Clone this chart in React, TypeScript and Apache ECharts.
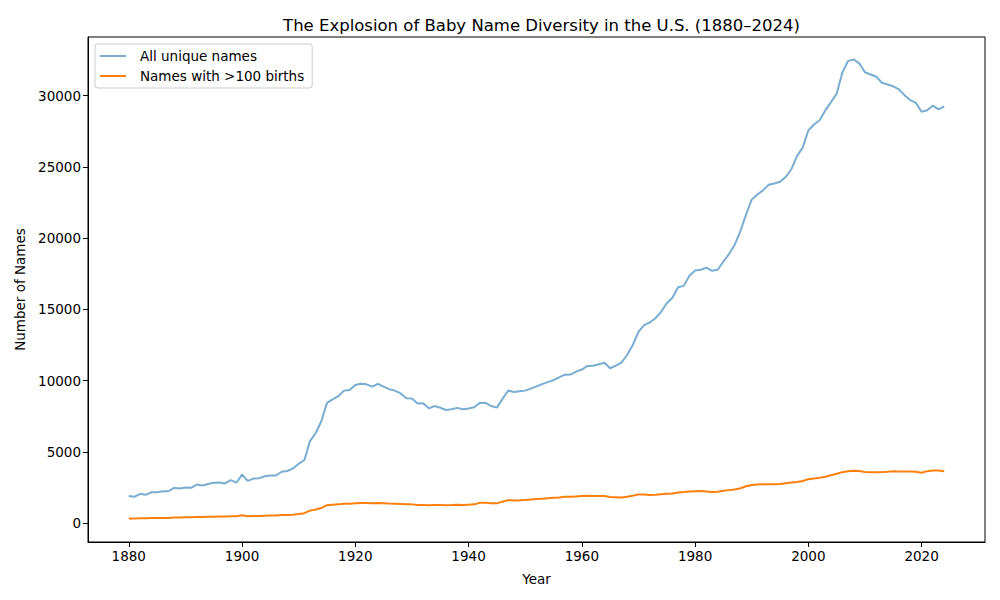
import React, { useEffect, useRef } from "react";
import * as echarts from "echarts";

const startYear = 1880;
const endYear = 2024;
const years: number[] = [];
for (let y = startYear; y <= endYear; y++) years.push(y);

const allUniqueNames = [
  1900, 1850, 2060, 1990, 2170, 2170, 2240, 2240, 2480, 2430,
  2500, 2480, 2710, 2650, 2750, 2830, 2860, 2790, 3020, 2840,
  3410, 2970, 3130, 3150, 3290, 3350, 3350, 3610, 3660, 3840,
  4170, 4420, 5760, 6310, 7150, 8440, 8690, 8910, 9300, 9340,
  9690, 9780, 9740, 9580, 9780, 9580, 9400, 9300, 9100, 8760,
  8750, 8400, 8410, 8060, 8220, 8100, 7940, 7990, 8090, 7990,
  8040, 8130, 8440, 8440, 8220, 8110, 8720, 9310, 9210, 9260,
  9300, 9440, 9600, 9760, 9900, 10040, 10230, 10420, 10430, 10630,
  10780, 11030, 11040, 11150, 11260, 10870, 11060, 11270, 11800, 12500,
  13420, 13890, 14080, 14380, 14830, 15430, 15820, 16550, 16650, 17360,
  17730, 17780, 17930, 17710, 17780, 18360, 18880, 19540, 20480, 21650,
  22700, 23060, 23350, 23750, 23830, 23950, 24290, 24830, 25750, 26350,
  27550, 27970, 28270, 28960, 29540, 30130, 31600, 32420, 32540, 32260,
  31640, 31480, 31320, 30900, 30780, 30650, 30430, 30030, 29680, 29490,
  28860, 28970, 29300, 29030, 29250,
];

const namesOver100 = [
  330, 320, 340, 340, 360, 360, 370, 370, 400, 400,
  410, 410, 440, 440, 450, 460, 470, 470, 490, 480,
  560, 490, 510, 510, 530, 540, 540, 570, 580, 600,
  640, 700, 880, 960, 1060, 1260, 1290, 1320, 1370, 1360,
  1400, 1420, 1410, 1400, 1410, 1400, 1380, 1370, 1350, 1320,
  1320, 1280, 1280, 1260, 1280, 1270, 1260, 1270, 1290, 1280,
  1300, 1320, 1430, 1440, 1400, 1390, 1510, 1620, 1600, 1610,
  1630, 1660, 1690, 1720, 1750, 1780, 1810, 1850, 1850, 1880,
  1900, 1920, 1910, 1910, 1910, 1840, 1820, 1800, 1850, 1930,
  2020, 2010, 1970, 1990, 2030, 2060, 2080, 2150, 2180, 2220,
  2240, 2250, 2230, 2180, 2200, 2270, 2320, 2370, 2450, 2590,
  2680, 2720, 2730, 2740, 2740, 2750, 2800, 2850, 2890, 2960,
  3090, 3140, 3180, 3260, 3360, 3470, 3580, 3650, 3680, 3660,
  3590, 3580, 3580, 3590, 3610, 3640, 3630, 3630, 3630, 3610,
  3540, 3650, 3700, 3690, 3650,
];

const xTicks = [1880, 1900, 1920, 1940, 1960, 1980, 2000, 2020];
const yTicks = [0, 5000, 10000, 15000, 20000, 25000, 30000];

const FONT = "DejaVu Sans";

export default function App() {
  const ref = useRef<HTMLDivElement>(null);
  useEffect(() => {
    if (!ref.current) return;
    const chart = echarts.init(ref.current, null, { renderer: "svg" });
    chart.setOption({
      animation: false,
      backgroundColor: "#ffffff",
      textStyle: { fontFamily: FONT },
      title: {
        text: "The Explosion of Baby Name Diversity in the U.S. (1880–2024)",
        left: 536.5,
        top: 12,
        textAlign: "center",
        textStyle: { fontFamily: FONT, fontSize: 16.5, fontWeight: "normal", color: "#000" },
      },
      legend: {
        left: 95,
        top: 44,
        orient: "vertical",
        padding: [5, 8, 5, 5],
        itemGap: 6,
        itemWidth: 26,
        itemHeight: 2,
        icon: "rect",
        borderColor: "#cccccc",
        borderWidth: 1,
        borderRadius: 3,
        backgroundColor: "rgba(255,255,255,0.8)",
        textStyle: { fontFamily: FONT, fontSize: 13.5, color: "#000", padding: [0, 0, 0, 9] },
        data: ["All unique names", "Names with >100 births"],
      },
      grid: {
        left: 88,
        right: 15,
        top: 37,
        bottom: 58,
        show: true,
        borderColor: "#000",
        borderWidth: 1,
        containLabel: false,
      },
      xAxis: {
        type: "value",
        min: 1872.8,
        max: 2031.2,
        name: "Year",
        nameLocation: "middle",
        nameGap: 30,
        nameTextStyle: { fontFamily: FONT, fontSize: 13.5, color: "#000" },
        axisLine: { show: true, onZero: false, lineStyle: { color: "#000", width: 1 } },
        axisTick: { show: true, length: 5, lineStyle: { color: "#000" }, customValues: xTicks },
        axisLabel: {
          fontFamily: FONT,
          fontSize: 13.5,
          color: "#000",
          margin: 7,
          customValues: xTicks,
          formatter: (v: number) => String(v),
        },
        splitLine: { show: false },
      },
      yAxis: {
        type: "value",
        min: -1320,
        max: 34110,
        name: "Number of Names",
        nameLocation: "middle",
        nameGap: 60,
        nameTextStyle: { fontFamily: FONT, fontSize: 13.5, color: "#000" },
        axisLine: { show: true, onZero: false, lineStyle: { color: "#000", width: 1 } },
        axisTick: { show: true, length: 5, lineStyle: { color: "#000" }, customValues: yTicks },
        axisLabel: {
          fontFamily: FONT,
          fontSize: 13.5,
          color: "#000",
          margin: 7,
          customValues: yTicks,
          formatter: (v: number) => String(v),
        },
        splitLine: { show: false },
      },
      series: [
        {
          name: "All unique names",
          type: "line",
          data: years.map((y, i) => [y, allUniqueNames[i]]),
          showSymbol: false,
          symbol: "none",
          color: "#79add2",
          lineStyle: { color: "#79add2", width: 2 },
        },
        {
          name: "Names with >100 births",
          type: "line",
          data: years.map((y, i) => [y, namesOver100[i]]),
          showSymbol: false,
          symbol: "none",
          color: "#ff7f0e",
          lineStyle: { color: "#ff7f0e", width: 2 },
        },
      ],
    });
    return () => chart.dispose();
  }, []);
  return (
    <div
      ref={ref}
      style={{ position: "fixed", left: 0, top: 0, width: 1000, height: 600 }}
    />
  );
}
